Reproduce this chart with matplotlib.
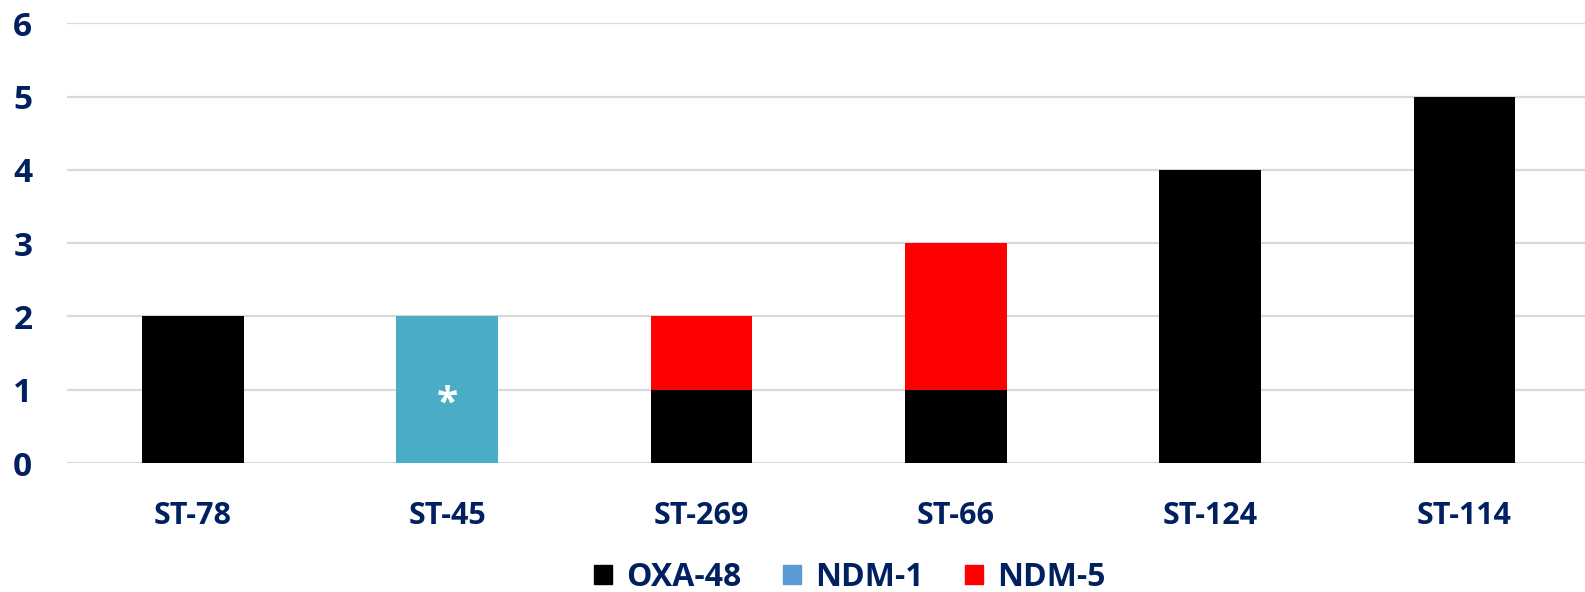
import matplotlib
matplotlib.use("Agg")
import matplotlib.pyplot as plt
from matplotlib.patches import Patch
import numpy as np

categories = ["ST-78", "ST-45", "ST-269", "ST-66", "ST-124", "ST-114"]
oxa48 = [2, 0, 1, 1, 4, 5]
ndm1 = [0, 2, 0, 0, 0, 0]
ndm5 = [0, 0, 1, 2, 0, 0]
series_names = ["OXA-48", "NDM-1", "NDM-5"]
y_ticks = [0, 1, 2, 3, 4, 5, 6]

navy = "#002060"
plt.rcParams["font.family"] = ["Open Sans", "DejaVu Sans"]
plt.rcParams["font.weight"] = "bold"

W, H = 1585, 592
fig = plt.figure(figsize=(W / 100, H / 100), dpi=100)
ax = fig.add_axes([67 / W, 1 - 463 / H, 1 - 67 / W, (463 - 23.3) / H])

x = np.arange(len(categories))
w = 0.40
ax.bar(x, oxa48, w, color="black", zorder=3)
ax.bar(x, ndm1, w, bottom=oxa48, color="#4BACC6", zorder=3)
bottom2 = np.array(oxa48) + np.array(ndm1)
ax.bar(x, ndm5, w, bottom=bottom2, color="#FF0000", zorder=3)

# mark on the NDM-1 bar
ax.text(1, 0.80, "*", color="white", fontsize=28, fontweight="bold",
        ha="center", va="center", zorder=4)

ax.set_xlim(-0.4955, 5.474)
ax.set_ylim(0, 6)
ax.set_yticks(y_ticks)
ax.set_xticks(x)
ax.set_xticklabels(categories)
ax.yaxis.grid(True, color="#D9D9D9", linewidth=1.6, zorder=0)
ax.set_axisbelow(True)
for s in ax.spines.values():
    s.set_visible(False)
ax.tick_params(axis="both", length=0, labelcolor=navy)
ax.tick_params(axis="y", pad=25, labelsize=24)
ax.tick_params(axis="x", pad=27, labelsize=22)
for lbl in ax.get_xticklabels() + ax.get_yticklabels():
    lbl.set_fontweight("bold")

handles = [Patch(color="black"), Patch(color="#5B9BD5"), Patch(color="#FF0000")]
leg = fig.legend(handles, series_names, loc="center", bbox_to_anchor=(850 / W, 1 - 577 / H),
                 ncol=3, frameon=False, fontsize=23, handlelength=0.55, handleheight=0.55,
                 handletextpad=0.45, columnspacing=1.3)
for t in leg.get_texts():
    t.set_color(navy)
    t.set_fontweight("bold")

fig.savefig("out.png", dpi=100)
